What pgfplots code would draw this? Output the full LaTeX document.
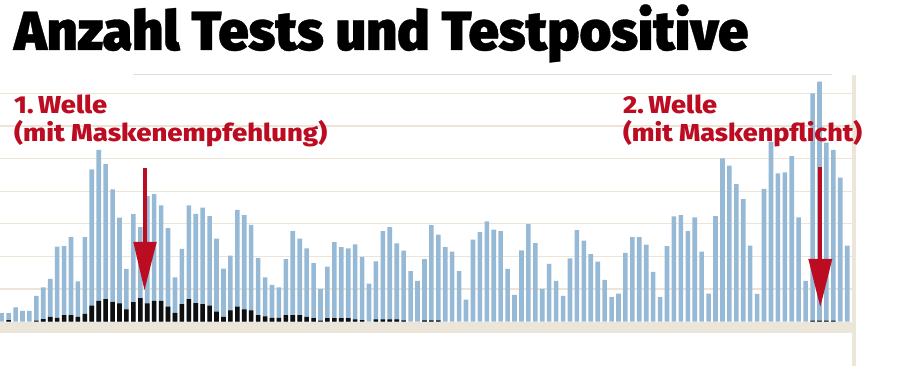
\documentclass[border=0pt]{standalone}
\usepackage{pgfplots}
\pgfplotsset{compat=1.18}
\usepackage{fontspec}
\usepackage{graphicx}
\setmainfont{Fira Sans}
\newfontfamily\titlefont{Fira Sans Black}[FakeBold=0.6]
\newfontfamily\labfont{Fira Sans ExtraBold}
\definecolor{barblue}{RGB}{150,185,214}
\definecolor{posblack}{RGB}{15,15,15}
\definecolor{gridc}{RGB}{238,228,214}
\definecolor{bandc}{RGB}{236,230,218}
\definecolor{redc}{RGB}{188,12,34}
\definecolor{topline}{RGB}{222,222,222}
\begin{document}
\begin{tikzpicture}[x=1pt,y=1pt]
\useasboundingbox (0,0) rectangle (900,366);
% right beige panel edge and top line
\fill[bandc] (851.7,0) rectangle (855.5,291);
\draw[topline, line width=1pt] (133,291) -- (832,291);
\begin{axis}[
  at={(0pt,33pt)}, anchor=south west,
  scale only axis, width=851.7pt, height=258pt,
  xmin=0.755, xmax=123.65, ymin=-0.347, ymax=7.567,
  hide axis, clip=false,
  ybar, bar width=4.6pt,
]
\fill[bandc] (axis cs:0.755,-0.347) rectangle (axis cs:123.65,0);
\foreach \g in {1,...,7}{
  \edef\tmp{\noexpand\draw[gridc, line width=1.2pt] (axis cs:0.755,\g) -- (axis cs:123.65,\g);}
  \tmp
}
\addplot[bar shift=0pt, fill=barblue, draw=none] coordinates {
(1,0.26) (2,0.26) (3,0.44) (4,0.33) (5,0.33) (6,0.79) (7,1.05) (8,1.31) (9,2.30) (10,2.32)
(11,2.59) (12,1.24) (13,2.59) (14,4.67) (15,5.27) (16,4.83) (17,4.06) (18,3.19) (19,1.62) (20,3.30)
(21,2.90) (22,3.85) (23,3.91) (24,3.57) (25,2.87) (26,1.36) (27,2.23) (28,3.57) (29,3.31) (30,3.50)
(31,3.24) (32,2.55) (33,1.63) (34,2.03) (35,3.43) (36,3.27) (37,2.97) (38,1.96) (39,1.36) (40,1.13)
(41,1.05) (42,1.92) (43,2.78) (44,2.55) (45,2.25) (46,1.80) (47,1.01) (48,1.69) (49,2.44) (50,2.29)
(51,2.25) (52,2.37) (53,1.99) (54,1.17) (55,1.85) (56,2.78) (57,2.90) (58,2.40) (59,2.18) (60,1.55)
(61,1.25) (62,1.92) (63,2.96) (64,2.67) (65,2.29) (66,2.15) (67,1.55) (68,0.68) (69,2.52) (70,2.75)
(71,3.08) (72,2.82) (73,2.78) (74,1.62) (75,0.82) (76,2.19) (77,2.99) (78,2.41) (79,1.01) (80,1.77)
(81,1.25) (82,0.79) (83,1.94) (84,2.81) (85,2.49) (86,2.07) (87,1.84) (88,1.28) (89,0.75) (90,0.86)
(91,2.11) (92,2.59) (93,2.59) (94,2.36) (95,1.53) (96,0.75) (97,2.32) (98,3.23) (99,3.27) (100,2.78)
(101,3.20) (102,2.15) (103,0.86) (104,3.24) (105,5.01) (106,4.79) (107,4.22) (108,3.76) (109,2.33) (110,0.85)
(111,4.07) (112,5.52) (113,4.55) (114,4.58) (115,5.08) (116,3.20) (117,1.25) (118,7.00) (119,7.36) (120,5.49)
(121,5.27) (122,4.42) (123,2.33)
};
\addplot[bar shift=0pt, fill=posblack, draw=none] coordinates {
(2,0.05) (6,0.03) (7,0.08) (8,0.15) (9,0.12) (10,0.20)
(11,0.20) (12,0.15) (13,0.24) (14,0.49) (15,0.64) (16,0.69) (17,0.61) (18,0.56) (19,0.38) (20,0.60)
(21,0.72) (22,0.56) (23,0.64) (24,0.64) (25,0.46) (26,0.27) (27,0.54) (28,0.69) (29,0.57) (30,0.54)
(31,0.49) (32,0.31) (33,0.15) (34,0.35) (35,0.46) (36,0.38) (37,0.35) (38,0.20) (39,0.16) (40,0.12)
(41,0.12) (42,0.20) (43,0.20) (44,0.20) (45,0.15) (46,0.11) (47,0.03) (48,0.11) (49,0.11) (50,0.11)
(51,0.11) (52,0.07) (53,0.05) (55,0.07) (56,0.07) (57,0.07) (58,0.07) (59,0.04)
(62,0.04) (63,0.04) (64,0.04)
(118,0.03) (119,0.03) (120,0.03) (121,0.03)
};
\end{axis}
% title
\node[anchor=base west, inner sep=0pt] at (14,316) {\resizebox{734pt}{\height}{\titlefont\fontsize{55}{60}\selectfont Anzahl Tests und Testpositive}};
% red labels
\node[anchor=base west, inner sep=0pt, text=redc] at (14,252.5) {\resizebox{93pt}{\height}{\labfont\fontsize{24.5}{28}\selectfont 1.\,Welle}};
\node[anchor=base west, inner sep=0pt, text=redc] at (14,224.3) {\resizebox{313pt}{\height}{\labfont\fontsize{24.5}{28}\selectfont (mit Maskenempfehlung)}};
\node[anchor=base west, inner sep=0pt, text=redc] at (623,252.5) {\resizebox{94pt}{\height}{\labfont\fontsize{24.5}{28}\selectfont 2.\,Welle}};
\node[anchor=base west, inner sep=0pt, text=redc] at (623,224.3) {\resizebox{239pt}{\height}{\labfont\fontsize{24.5}{28}\selectfont (mit Maskenpflicht)}};
% arrows
\fill[redc] (142.5,198) rectangle (146.5,123);
\fill[redc] (133.3,124) -- (156.7,124) -- (144.5,76) -- cycle;
\fill[redc] (818,199.3) rectangle (822,106);
\fill[redc] (808.3,107) -- (832.3,107) -- (820.3,59.3) -- cycle;
\end{tikzpicture}
\end{document}
